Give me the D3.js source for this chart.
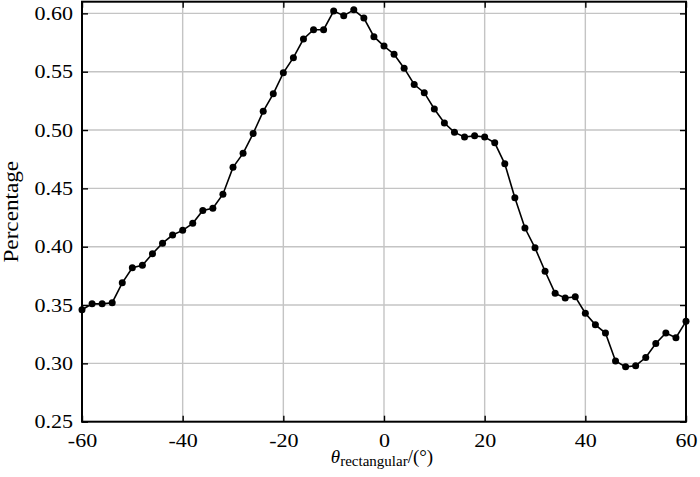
<!DOCTYPE html>
<html>
<head>
<meta charset="utf-8">
<script src="https://cdn.jsdelivr.net/npm/d3@7"></script>
<style>
  body { margin: 0; background: #fff; }
  svg text { font-family: "Liberation Serif", "Times New Roman", serif; fill: #000; }
  .grid line { stroke: #c4c4c4; stroke-width: 1.4; }
  .axis path { display: none; }
  .axis line { stroke: #000; stroke-width: 1.4; }
  .axis text { font-size: 19px; }
</style>
</head>
<body>
<div id="chart"></div>
<script>
// Angle (degrees) of each measurement
const angles = [-60, -58, -56, -54, -52, -50, -48, -46, -44, -42, -40, -38, -36, -34, -32, -30,
  -28, -26, -24, -22, -20, -18, -16, -14, -12, -10, -8, -6, -4, -2, 0, 2, 4, 6, 8, 10, 12, 14,
  16, 18, 20, 22, 24, 26, 28, 30, 32, 34, 36, 38, 40, 42, 44, 46, 48, 50, 52, 54, 56, 58, 60];

// Percentage
const percentages = [0.346, 0.351, 0.351, 0.352, 0.369, 0.382, 0.384, 0.394, 0.403, 0.410,
  0.414, 0.420, 0.431, 0.433, 0.445, 0.468, 0.480, 0.497, 0.516, 0.531, 0.549, 0.562, 0.578,
  0.586, 0.586, 0.602, 0.598, 0.603, 0.596, 0.580, 0.572, 0.565, 0.553, 0.539, 0.532, 0.518,
  0.506, 0.498, 0.494, 0.495, 0.494, 0.489, 0.471, 0.442, 0.416, 0.399, 0.379, 0.360, 0.356,
  0.357, 0.343, 0.333, 0.326, 0.302, 0.297, 0.298, 0.305, 0.317, 0.326, 0.322, 0.336];

const xTicks = [-60, -40, -20, 0, 20, 40, 60];
const yTicks = [0.25, 0.30, 0.35, 0.40, 0.45, 0.50, 0.55, 0.60];

const width = 700, height = 477;
const margin = {top: 1.7, right: 14, bottom: 55.3, left: 82};
const w = width - margin.left - margin.right;
const h = height - margin.top - margin.bottom;
// the reference glyphs are a bit wider than Liberation Serif
const stretch = 1.16;

const svg = d3.select("#chart").append("svg")
    .attr("width", width)
    .attr("height", height);

const g = svg.append("g")
    .attr("transform", "translate(" + margin.left + "," + margin.top + ")");

const x = d3.scaleLinear().domain([-60, 60]).range([0, w]);
const y = d3.scaleLinear().domain([0.25, 0.61]).range([h, 0]);

// Grid lines
g.append("g").attr("class", "grid")
    .selectAll("line").data(xTicks.slice(1, -1)).enter().append("line")
    .attr("x1", d => x(d)).attr("x2", d => x(d))
    .attr("y1", 0).attr("y2", h);

g.append("g").attr("class", "grid")
    .selectAll("line").data(yTicks.slice(1)).enter().append("line")
    .attr("x1", 0).attr("x2", w)
    .attr("y1", d => y(d)).attr("y2", d => y(d));

// Axes, ticks pointing inward
const xAxis = g.append("g").attr("class", "axis")
    .attr("transform", "translate(0," + h + ")")
    .call(d3.axisBottom(x).tickValues(xTicks).tickSizeInner(-6).tickSizeOuter(0)
        .tickPadding(12).tickFormat(d => String(d)));
xAxis.selectAll("text").attr("transform", "scale(" + stretch + ",1)");

const yAxis = g.append("g").attr("class", "axis")
    .call(d3.axisLeft(y).tickValues(yTicks).tickSizeInner(-6).tickSizeOuter(0)
        .tickPadding(9).tickFormat(d3.format(".2f")));
yAxis.selectAll("text")
    .attr("x", -9 / stretch)
    .attr("transform", "scale(" + stretch + ",1)");

g.append("g").attr("class", "axis")
    .call(d3.axisTop(x).tickValues(xTicks).tickSizeInner(-6).tickSizeOuter(0).tickFormat(""));

g.append("g").attr("class", "axis")
    .attr("transform", "translate(" + w + ",0)")
    .call(d3.axisRight(y).tickValues(yTicks).tickSizeInner(-6).tickSizeOuter(0).tickFormat(""));

// Frame
g.append("rect")
    .attr("x", 0).attr("y", 0)
    .attr("width", w).attr("height", h)
    .attr("fill", "none")
    .attr("stroke", "#000")
    .attr("stroke-width", 2);

// Data line and markers
const points = angles.map((a, i) => ({a: a, v: percentages[i]}));

g.append("path")
    .datum(points)
    .attr("fill", "none")
    .attr("stroke", "#000")
    .attr("stroke-width", 1.6)
    .attr("d", d3.line().x(d => x(d.a)).y(d => y(d.v)));

g.selectAll(".dot").data(points).enter().append("circle")
    .attr("class", "dot")
    .attr("cx", d => x(d.a))
    .attr("cy", d => y(d.v))
    .attr("r", 3.5)
    .attr("fill", "#000");

// Axis titles
const xTitle = svg.append("text")
    .attr("x", margin.left + w / 2 - 2)
    .attr("y", 463)
    .attr("text-anchor", "middle")
    .style("font-size", "19px");
xTitle.append("tspan").style("font-style", "italic").text("θ");
xTitle.append("tspan").attr("dy", 3).style("font-size", "15px").text("rectangular");
xTitle.append("tspan").attr("dy", -3).text("/(°)");

svg.append("text")
    .attr("transform", "translate(18," + (margin.top + h / 2) + ") rotate(-90) scale(" + stretch + ",1)")
    .attr("text-anchor", "middle")
    .style("font-size", "20px")
    .text("Percentage");
</script>
</body>
</html>
